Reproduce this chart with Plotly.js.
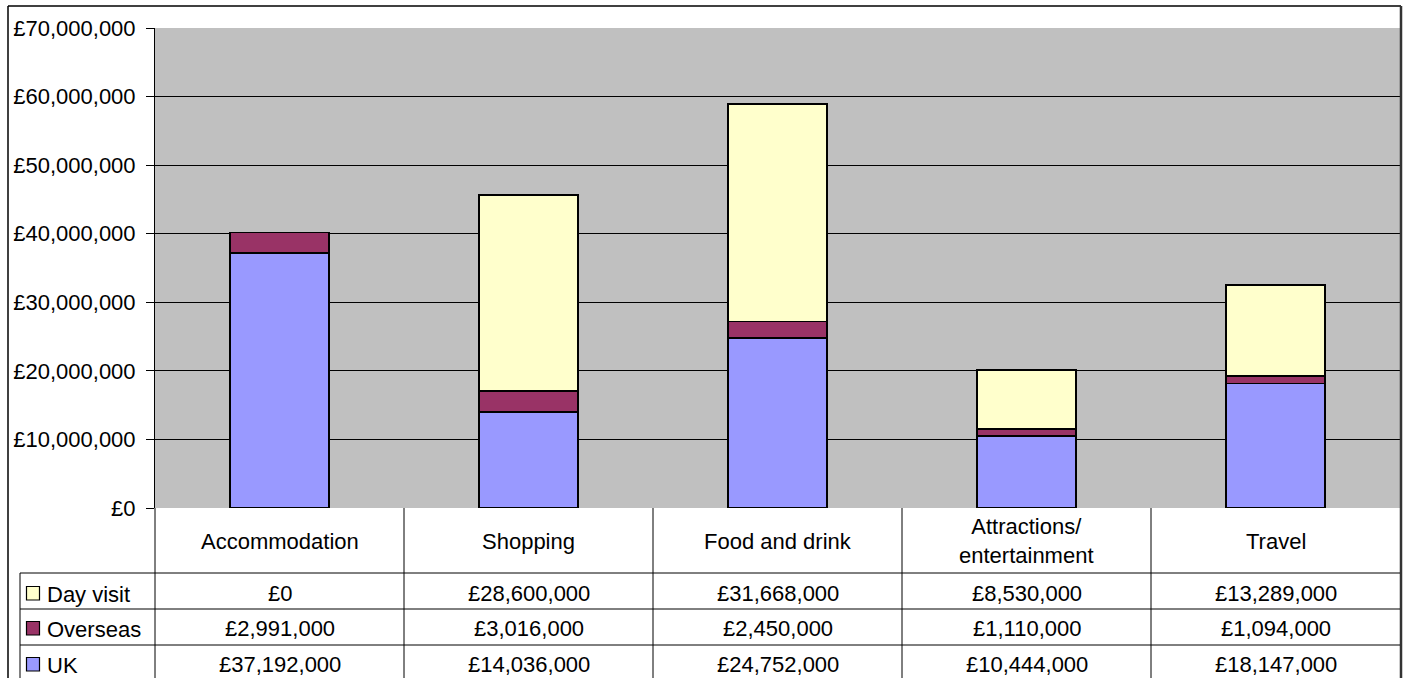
<!DOCTYPE html>
<html>
<head>
<meta charset="utf-8">
<script src="https://cdn.plot.ly/plotly-3.0.1.min.js"></script>
<style>
  html, body { margin: 0; padding: 0; background: #ffffff; }
  #chart { width: 1409px; height: 678px; }
</style>
</head>
<body>
<div id="chart"></div>
<script>
// Visitor spend by category, split by visitor type
const categories = ['Accommodation', 'Shopping', 'Food and drink', 'Attractions/<br>entertainment', 'Travel'];
const seriesNames = ['Day visit', 'Overseas', 'UK'];
const dayVisit = [0, 28600000, 31668000, 8530000, 13289000];
const overseas = [2991000, 3016000, 2450000, 1110000, 1094000];
const uk = [37192000, 14036000, 24752000, 10444000, 18147000];
const seriesColors = ['#FFFFCC', '#993366', '#9999FF'];
const yTicks = [0, 10000000, 20000000, 30000000, 40000000, 50000000, 60000000, 70000000];

const FONT = '"Liberation Sans", Arial, sans-serif';
const TXT = 22;
const W = 1409, H = 678;
const plotL = 155, plotR = 1400, plotT = 28, plotB = 508;

// pixel -> paper helpers for the data-table grid drawn under the plot
const fx = px => (px - plotL) / (plotR - plotL);
const fy = py => (plotB - py) / (plotB - plotT);

const money = v => '£' + v.toLocaleString('en-GB');
const xIdx = categories.map((_, i) => i);

const barLine = { color: '#000000', width: 1.8 };
const traces = [
  { name: 'UK', y: uk, color: seriesColors[2] },
  { name: 'Overseas', y: overseas, color: seriesColors[1] },
  { name: 'Day visit', y: dayVisit, color: seriesColors[0] }
].map(s => ({
  type: 'bar',
  name: s.name,
  x: xIdx,
  y: s.y,
  width: 0.4,
  marker: { color: s.color, line: barLine },
  showlegend: false,
  hoverinfo: 'x+y+name'
}));

const shapes = [];
const annotations = [];
const lineStyle = { color: '#000000', width: 1 };

// outer chart frame
shapes.push({ type: 'line', xref: 'paper', yref: 'paper', x0: fx(8), x1: fx(1401), y0: fy(6), y1: fy(6), line: { color: '#000000', width: 1.5 } });
shapes.push({ type: 'line', xref: 'paper', yref: 'paper', x0: fx(8), x1: fx(8), y0: fy(6), y1: fy(H + 2), line: { color: '#000000', width: 1.5 } });
shapes.push({ type: 'line', xref: 'paper', yref: 'paper', x0: fx(1401), x1: fx(1401), y0: fy(6), y1: fy(H + 2), line: { color: '#333333', width: 2.5 } });

// data table grid
const rowTops = [573, 609, 645];
rowTops.forEach(py => {
  shapes.push({ type: 'line', xref: 'paper', yref: 'paper', x0: fx(20), x1: fx(plotR), y0: fy(py), y1: fy(py), line: lineStyle });
});
shapes.push({ type: 'line', xref: 'paper', yref: 'paper', x0: fx(20), x1: fx(20), y0: fy(573), y1: fy(H + 2), line: lineStyle });
shapes.push({ type: 'line', xref: 'paper', yref: 'paper', x0: 0, x1: 0, y0: 0, y1: fy(H + 2), line: lineStyle });
for (let i = 0; i < categories.length - 1; i++) {
  shapes.push({ type: 'line', xref: 'x', yref: 'paper', x0: i + 0.5, x1: i + 0.5, y0: 0, y1: fy(H + 2), line: lineStyle });
}

// category headers
categories.forEach((c, i) => {
  annotations.push({
    xref: 'x', yref: 'paper', x: i, y: fy(541), text: c, showarrow: false,
    xanchor: 'center', yanchor: 'middle', align: 'center',
    font: { family: FONT, size: TXT, color: '#000000' }
  });
});

// table rows: legend key, series name, values
const rowSeries = [dayVisit, overseas, uk];
const rowCenters = [593, 628, 664];
rowSeries.forEach((vals, r) => {
  const cy = rowCenters[r];
  shapes.push({
    type: 'rect', xref: 'paper', yref: 'paper',
    x0: fx(26.5), x1: fx(39.5), y0: fy(cy - 6.5), y1: fy(cy + 7),
    fillcolor: seriesColors[r], line: { color: '#000000', width: 1.2 }
  });
  annotations.push({
    xref: 'paper', yref: 'paper', x: fx(45), y: fy(cy + 1), text: seriesNames[r], showarrow: false,
    xanchor: 'left', yanchor: 'middle',
    font: { family: FONT, size: TXT, color: '#000000' }
  });
  vals.forEach((v, i) => {
    annotations.push({
      xref: 'x', yref: 'paper', x: i, y: fy(cy), text: money(v), showarrow: false,
      xanchor: 'center', yanchor: 'middle',
      font: { family: FONT, size: TXT, color: '#000000' }
    });
  });
});

const layout = {
  width: W,
  height: H,
  margin: { l: plotL, r: W - plotR, t: plotT, b: H - plotB, pad: 0 },
  paper_bgcolor: '#ffffff',
  plot_bgcolor: '#C0C0C0',
  barmode: 'stack',
  font: { family: FONT, size: TXT, color: '#000000' },
  xaxis: {
    type: 'linear',
    range: [-0.5, categories.length - 0.5],
    showticklabels: false,
    showgrid: false,
    zeroline: false,
    ticks: '',
    showline: false,
    fixedrange: true
  },
  yaxis: {
    range: [0, 70000000],
    tickmode: 'array',
    tickvals: yTicks,
    ticktext: yTicks.map(money),
    ticks: 'outside',
    ticklen: 8,
    tickwidth: 1,
    tickcolor: '#000000',
    ticklabelstandoff: 6,
    showline: true,
    linecolor: '#000000',
    linewidth: 1,
    showgrid: true,
    gridcolor: '#000000',
    gridwidth: 1,
    zeroline: false,
    tickfont: { family: FONT, size: TXT, color: '#000000' },
    fixedrange: true
  },
  shapes: shapes,
  annotations: annotations
};

Plotly.newPlot('chart', traces, layout, { displayModeBar: false, staticPlot: true });
</script>
</body>
</html>
